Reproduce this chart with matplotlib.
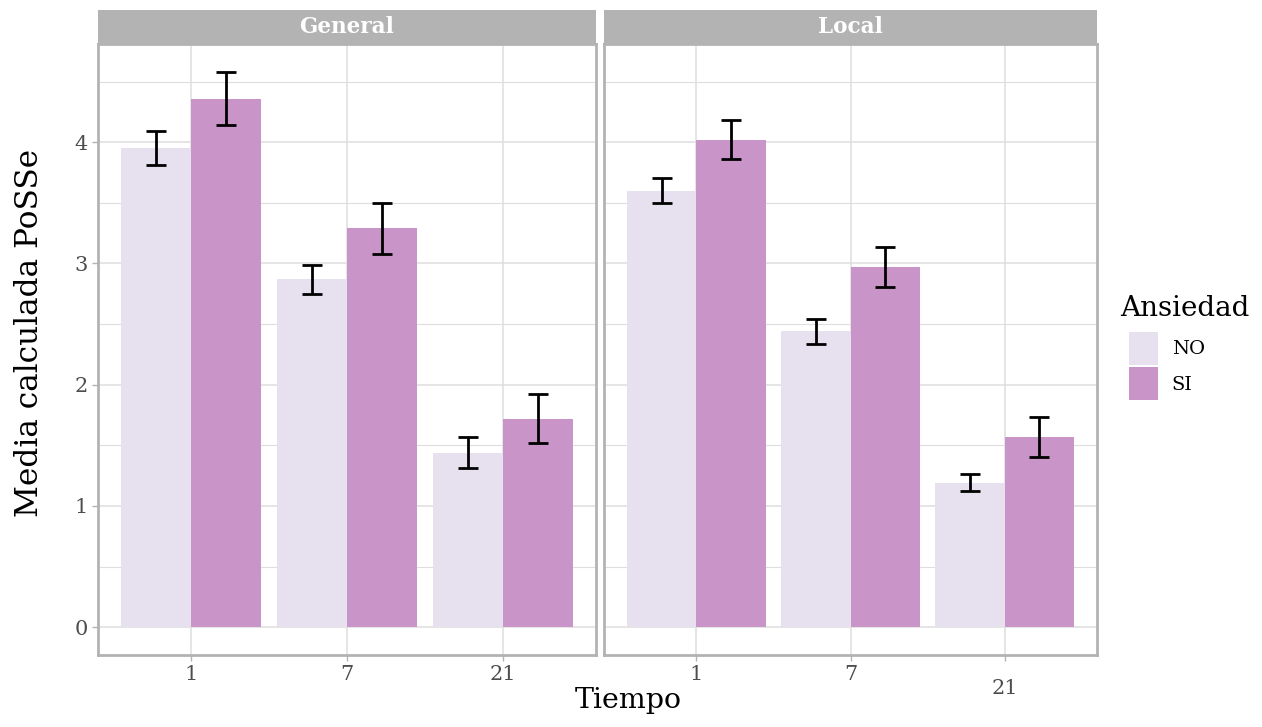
import numpy as np
import matplotlib
matplotlib.use("Agg")
import matplotlib.pyplot as plt
from matplotlib.patches import Patch, Rectangle
from matplotlib.ticker import MultipleLocator

plt.rcParams['font.family'] = ['DejaVu Serif']

# datos
tiempos = ['1', '7', '21']
paneles = ['General', 'Local']
grupos = ['NO', 'SI']
colores = {'NO': '#E6E0EF', 'SI': '#C994C7'}

medias = {
    'General': {'NO': [3.95, 2.87, 1.44], 'SI': [4.36, 3.29, 1.72]},
    'Local':   {'NO': [3.60, 2.44, 1.19], 'SI': [4.02, 2.97, 1.57]},
}
errores = {
    'General': {'NO': [0.14, 0.12, 0.13], 'SI': [0.22, 0.21, 0.20]},
    'Local':   {'NO': [0.105, 0.105, 0.07], 'SI': [0.16, 0.165, 0.165]},
}

W, H = 1262, 727
fig = plt.figure(figsize=(W / 100, H / 100), dpi=100)

borde = '#B3B3B3'
rejilla = '#DEDEDE'

cajas = [(98, 596), (604, 1097)]
y_top, y_bot, strip_top = 44, 655, 10

x = np.arange(1, len(tiempos) + 1)
ancho = 0.45

for i, (panel, (x0, x1)) in enumerate(zip(paneles, cajas)):
    ax = fig.add_axes([x0 / W, 1 - y_bot / H, (x1 - x0) / W, (y_bot - y_top) / H])
    for j, g in enumerate(grupos):
        pos = x + (j - 0.5) * ancho
        ax.bar(pos, medias[panel][g], width=ancho, color=colores[g], zorder=2)
        ax.errorbar(pos, medias[panel][g], yerr=errores[panel][g], fmt='none',
                    ecolor='black', elinewidth=2, capsize=7, capthick=2, zorder=3)

    ax.set_xlim(0.4, 3.6)
    ax.set_ylim(-0.23, 4.81)
    ax.set_xticks(x)
    ax.set_xticklabels(tiempos)
    ax.yaxis.set_major_locator(MultipleLocator(1))
    ax.yaxis.set_minor_locator(MultipleLocator(0.5))
    ax.grid(which='major', color=rejilla, lw=1.1, zorder=0)
    ax.grid(which='minor', axis='y', color=rejilla, lw=0.8, zorder=0)
    ax.set_axisbelow(True)
    for s in ax.spines.values():
        s.set_color(borde)
        s.set_linewidth(2)
    ax.tick_params(which='both', colors=borde, labelcolor='#4D4D4D', labelsize=15, length=4, width=1)
    ax.tick_params(which='minor', length=0)
    if i == 0:
        ax.set_yticks([0, 1, 2, 3, 4])
    else:
        ax.tick_params(axis='y', which='both', left=False, labelleft=False)
        ax.xaxis.get_major_ticks()[2].set_pad(13)

    # franja del panel
    fig.patches.append(Rectangle((x0 / W, 1 - y_top / H), (x1 - x0) / W, (y_top - strip_top) / H,
                                 transform=fig.transFigure, facecolor=borde, edgecolor='none'))
    fig.text((x0 + x1) / 2 / W, 1 - (y_top + strip_top) / 2 / H, panel, color='white',
             fontsize=15.5, fontweight='bold', ha='center', va='center')

fig.text(628 / W, 1 - 700 / H, 'Tiempo', fontsize=20.5, ha='center', va='center')
fig.text(30 / W, 1 - 333 / H, 'Media calculada PoSSe', fontsize=22.5, rotation=90,
         ha='center', va='center')

# leyenda
fig.text(1120 / W, 1 - 308 / H, 'Ansiedad', fontsize=20, ha='left', va='center')
handles = [Patch(facecolor=colores[g], edgecolor='none') for g in grupos]
fig.legend(handles, grupos, loc='upper left',
           bbox_to_anchor=(1129 / W, 1 - 332 / H), frameon=False,
           fontsize=14, handlelength=1.5, handleheight=2.2,
           labelspacing=0.15, handletextpad=0.7, borderaxespad=0, borderpad=0)

fig.savefig('out.png', dpi=100)
